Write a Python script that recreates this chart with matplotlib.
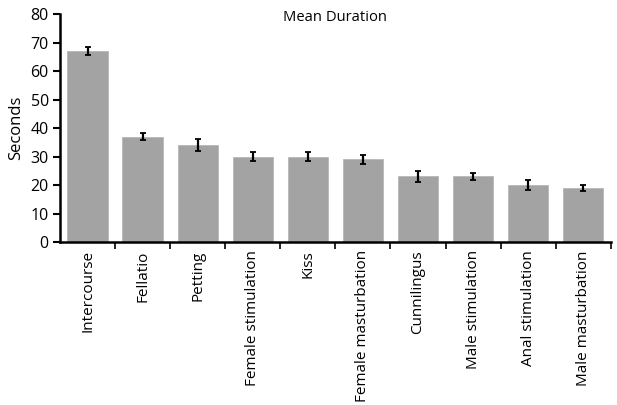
import numpy as np
import matplotlib
matplotlib.use("Agg")
import matplotlib.pyplot as plt
from matplotlib.ticker import FixedLocator, NullFormatter

plt.rcParams['font.family'] = ['Open Sans', 'DejaVu Sans']

categories = ['Intercourse', 'Fellatio', 'Petting', 'Female stimulation', 'Kiss',
              'Female masturbation', 'Cunnilingus', 'Male stimulation',
              'Anal stimulation', 'Male masturbation']
means = [67, 37, 34, 30, 30, 29, 23, 23, 20, 19]
errors = [1.3, 1.1, 2.2, 1.6, 1.6, 1.6, 1.9, 1.3, 1.9, 1.0]
yticks = [0, 10, 20, 30, 40, 50, 60, 70, 80]

fig = plt.figure(figsize=(6.17, 4.05), dpi=100)
ax = fig.add_axes([0.0972, 0.4025, 0.8928, 0.5625])

x = np.arange(len(categories))
ax.bar(x, means, width=0.73, color='#a3a3a3', edgecolor='#b8b8b8', linewidth=0.6,
       yerr=errors, error_kw=dict(ecolor='black', elinewidth=1.6, capsize=2.5, capthick=1.3))

ax.set_xlim(-0.5, len(categories) - 0.5)
ax.set_ylim(0, 80)
ax.set_yticks(yticks)
ax.tick_params(axis='y', direction='out', length=5, width=1.5, labelsize=11.5, pad=3)

# labels at centres without ticks, ticks at the boundaries
ax.set_xticks(x)
ax.set_xticklabels(categories, rotation=90, fontsize=11)
ax.tick_params(axis='x', which='major', length=0, pad=6)
ax.xaxis.set_minor_locator(FixedLocator(np.arange(0.5, len(categories), 1.0)))
ax.xaxis.set_minor_formatter(NullFormatter())
ax.tick_params(axis='x', which='minor', direction='out', length=5, width=1.2)

for s in ['top', 'right']:
    ax.spines[s].set_visible(False)
for s in ['left', 'bottom']:
    ax.spines[s].set_linewidth(1.8)

ax.set_ylabel('Seconds', fontsize=12, labelpad=5)
ax.text(0.5, 0.985, 'Mean Duration', transform=ax.transAxes, ha='center', va='center', fontsize=10.6)

fig.savefig('out.png', dpi=100)
